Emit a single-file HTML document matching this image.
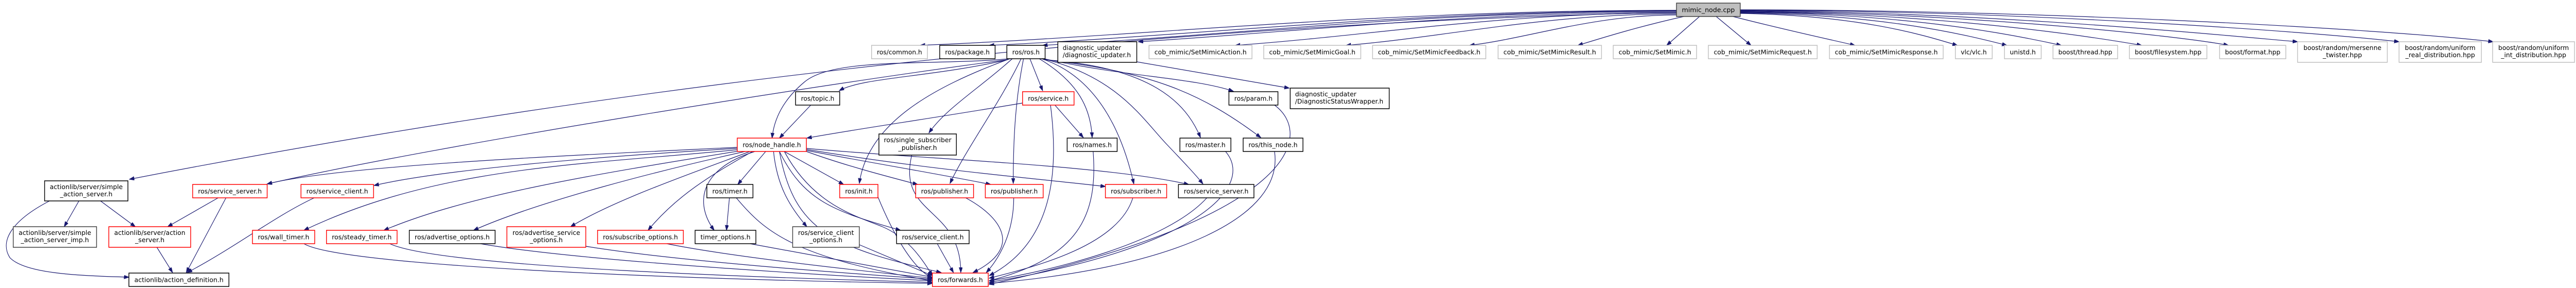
<!DOCTYPE html>
<html><head><meta charset="utf-8"><style>
html,body{margin:0;padding:0;background:#fff;width:100%;height:100%;overflow:hidden}
svg{display:block;position:absolute;left:0;top:0;width:100%;height:100%}
text{font-family:"DejaVu Sans","Liberation Sans",sans-serif;font-size:12px;fill:#000}
.e{fill:none;stroke:#191970;stroke-width:1.2;marker-end:url(#a)}
.g{fill:#fff;stroke:#bfbfbf;stroke-width:1.5}
.b{fill:#fff;stroke:#000;stroke-width:1.5}
.r{fill:#fff;stroke:#ff0000;stroke-width:1.5}
</style></head><body>
<svg viewBox="0 0 5255 559" preserveAspectRatio="none" overflow="hidden" xmlns="http://www.w3.org/2000/svg">
<defs><marker id="a" markerUnits="userSpaceOnUse" markerWidth="11" markerHeight="8" refX="10" refY="3.5" orient="auto"><path d="M0,0 L10,3.5 L0,7 z" fill="#191970" stroke="#191970"/></marker></defs>
<g>
<path class="e" d="M3420,24 C2600,40 1500,120 264,348"/>
<path class="e" d="M3420,20 C2800,20 2340,70 1877,88"/>
<path class="e" d="M3420,21 C2860,21 2440,70 2018,88"/>
<path class="e" d="M3420,22 C2900,22 2520,68 2127,88"/>
<path class="e" d="M3420,24 C2980,24 2650,62 2322,81"/>
<path class="e" d="M3420,25 C3060,25 2790,70 2520,88"/>
<path class="e" d="M3420,27 C3150,27 2950,72 2746,88"/>
<path class="e" d="M3420,29 C3250,29 3120,74 2998,88"/>
<path class="e" d="M3435,32 C3350,50 3280,70 3219,88"/>
<path class="e" d="M3467,32 L3400,88"/>
<path class="e" d="M3501,32 L3572,88"/>
<path class="e" d="M3535,32 C3650,60 3740,78 3784,88"/>
<path class="e" d="M3550,26 C3800,30 3930,70 3993,88"/>
<path class="e" d="M3550,25 C3850,28 4020,70 4094,88"/>
<path class="e" d="M3550,24 C3900,26 4120,70 4205,88"/>
<path class="e" d="M3550,23 C3950,25 4260,70 4369,88"/>
<path class="e" d="M3550,22 C4000,24 4450,70 4546,88"/>
<path class="e" d="M3550,21 C4050,22 4550,70 4687,81"/>
<path class="e" d="M3550,20 C4100,20 4700,60 4894,81"/>
<path class="e" d="M3550,19 C4150,19 4850,55 5086,81"/>
<path class="e" d="M2060,114 C1900,128 1700,110 1640,160 C1590,200 1578,240 1575,268"/>
<path class="e" d="M2055,116 C1900,150 1760,150 1712,176"/>
<path class="e" d="M2055,116 C1700,160 900,280 545,357"/>
<path class="e" d="M2065,114 C2000,170 1930,210 1895,258"/>
<path class="e" d="M2083,114 C2040,200 1970,290 1938,356"/>
<path class="e" d="M2088,114 C2070,200 2067,280 2067,356"/>
<path class="e" d="M2101,114 L2127,176"/>
<path class="e" d="M2120,114 C2200,160 2225,210 2228,267"/>
<path class="e" d="M2125,114 C2240,150 2290,260 2313,357"/>
<path class="e" d="M2128,114 C2280,150 2330,230 2380,280 C2410,310 2440,340 2454,357"/>
<path class="e" d="M2130,114 C2300,150 2430,150 2516,177"/>
<path class="e" d="M2130,116 C2350,130 2420,200 2449,267"/>
<path class="e" d="M2132,116 C2350,140 2450,180 2572,267"/>
<path class="e" d="M2060,114 C1900,170 1770,240 1753,356"/>
<path class="e" d="M2319,120 L2630,171"/>
<path class="e" d="M2086,200 C1900,230 1750,250 1646,268"/>
<path class="e" d="M2152,204 L2210,267"/>
<path class="e" d="M2143,204 C2160,330 2150,470 2018,535"/>
<path class="e" d="M1860,301 C1830,420 1960,400 1960,529"/>
<path class="e" d="M2230,294 C2240,420 2200,500 2018,545"/>
<path class="e" d="M2500,294 C2560,360 2450,480 2018,548"/>
<path class="e" d="M2600,294 C2620,420 2400,520 2018,550"/>
<path class="e" d="M2600,204 C2680,260 2650,420 2018,552"/>
<path class="e" d="M2311,384 C2280,480 2100,520 2018,540"/>
<path class="e" d="M2462,384 C2380,470 2150,525 2018,545"/>
<path class="e" d="M1970,384 C2040,420 2090,480 1985,529"/>
<path class="e" d="M2068,384 C2068,450 2040,500 2012,529"/>
<path class="e" d="M1912,473 L1945,529"/>
<path class="e" d="M1488,384 L1482,447"/>
<path class="e" d="M1502,384 C1560,450 1620,500 1902,545"/>
<path class="e" d="M1790,380 C1820,450 1860,520 1902,540"/>
<path class="e" d="M1753,475 L1902,535"/>
<path class="e" d="M1530,473 L1902,538"/>
<path class="e" d="M1360,473 C1500,500 1800,530 1902,540"/>
<path class="e" d="M1195,478 C1400,510 1800,535 1902,542"/>
<path class="e" d="M980,473 C1200,510 1800,540 1902,545"/>
<path class="e" d="M795,473 C900,520 1600,540 1902,548"/>
<path class="e" d="M620,473 C700,520 1500,545 1902,550"/>
<path class="e" d="M641,384 C560,420 480,480 382,529"/>
<path class="e" d="M461,384 L380,529"/>
<path class="e" d="M445,384 L342,440"/>
<path class="e" d="M161,390 L131,440"/>
<path class="e" d="M205,390 L276,440"/>
<path class="e" d="M101,390 C20,430 0,470 20,500 C50,530 150,535 263,538"/>
<path class="e" d="M320,480 L352,529"/>
<path class="e" d="M1504,286 C1200,300 700,320 545,357"/>
<path class="e" d="M1504,288 C1200,305 900,330 763,360"/>
<path class="e" d="M1510,290 C1200,320 900,320 620,447"/>
<path class="e" d="M1515,292 C1200,340 950,380 783,447"/>
<path class="e" d="M1520,294 C1350,330 1100,390 966,447"/>
<path class="e" d="M1530,294 C1400,340 1250,390 1164,440"/>
<path class="e" d="M1535,294 C1450,340 1380,380 1322,447"/>
<path class="e" d="M1540,294 C1420,330 1420,400 1457,447"/>
<path class="e" d="M1562,294 L1505,358"/>
<path class="e" d="M1600,294 L1721,358"/>
<path class="e" d="M1578,294 C1585,360 1610,400 1646,440"/>
<path class="e" d="M1590,294 C1640,390 1700,410 1837,447"/>
<path class="e" d="M1645,294 C1720,320 1800,340 1872,358"/>
<path class="e" d="M1645,292 C1800,320 1900,335 2021,358"/>
<path class="e" d="M1645,290 C1900,330 2100,345 2255,362"/>
<path class="e" d="M1645,288 C1900,310 2250,320 2425,358"/>
<path class="e" d="M1600,294 C1660,400 1750,420 1800,440 C1850,460 1880,500 1902,535"/>
<path class="e" d="M1590,294 C1620,450 1700,480 1920,529"/>
<path class="e" d="M1654,204 L1590,268"/>
</g>
<g>
<rect class="b" x="3420" y="6" width="130" height="26" style="fill:#bfbfbf;stroke:#404040"/><text x="3485" y="23.5" text-anchor="middle" textLength="108" lengthAdjust="spacingAndGlyphs">mimic_node.cpp</text>
<rect class="g" x="1778" y="88" width="114" height="26"/><text x="1835" y="105.5" text-anchor="middle" textLength="92" lengthAdjust="spacingAndGlyphs">ros/common.h</text>
<rect class="b" x="1917" y="88" width="113" height="26"/><text x="1973.5" y="105.5" text-anchor="middle" textLength="91" lengthAdjust="spacingAndGlyphs">ros/package.h</text>
<rect class="b" x="2054" y="88" width="78" height="26"/><text x="2093" y="105.5" text-anchor="middle" textLength="56" lengthAdjust="spacingAndGlyphs">ros/ros.h</text>
<rect class="g" x="2344" y="88" width="210" height="26"/><text x="2449" y="105.5" text-anchor="middle" textLength="188" lengthAdjust="spacingAndGlyphs">cob_mimic/SetMimicAction.h</text>
<rect class="g" x="2578" y="88" width="198" height="26"/><text x="2677" y="105.5" text-anchor="middle" textLength="176" lengthAdjust="spacingAndGlyphs">cob_mimic/SetMimicGoal.h</text>
<rect class="g" x="2800" y="88" width="231" height="26"/><text x="2915.5" y="105.5" text-anchor="middle" textLength="209" lengthAdjust="spacingAndGlyphs">cob_mimic/SetMimicFeedback.h</text>
<rect class="g" x="3056" y="88" width="211" height="26"/><text x="3161.5" y="105.5" text-anchor="middle" textLength="189" lengthAdjust="spacingAndGlyphs">cob_mimic/SetMimicResult.h</text>
<rect class="g" x="3291" y="88" width="170" height="26"/><text x="3376" y="105.5" text-anchor="middle" textLength="148" lengthAdjust="spacingAndGlyphs">cob_mimic/SetMimic.h</text>
<rect class="g" x="3485" y="88" width="222" height="26"/><text x="3596" y="105.5" text-anchor="middle" textLength="200" lengthAdjust="spacingAndGlyphs">cob_mimic/SetMimicRequest.h</text>
<rect class="g" x="3732" y="88" width="232" height="26"/><text x="3848" y="105.5" text-anchor="middle" textLength="210" lengthAdjust="spacingAndGlyphs">cob_mimic/SetMimicResponse.h</text>
<rect class="g" x="3989" y="88" width="75" height="26"/><text x="4026.5" y="105.5" text-anchor="middle" textLength="53" lengthAdjust="spacingAndGlyphs">vlc/vlc.h</text>
<rect class="g" x="4089" y="88" width="75" height="26"/><text x="4126.5" y="105.5" text-anchor="middle" textLength="53" lengthAdjust="spacingAndGlyphs">unistd.h</text>
<rect class="g" x="4188" y="88" width="132" height="26"/><text x="4254" y="105.5" text-anchor="middle" textLength="110" lengthAdjust="spacingAndGlyphs">boost/thread.hpp</text>
<rect class="g" x="4344" y="88" width="158" height="26"/><text x="4423" y="105.5" text-anchor="middle" textLength="136" lengthAdjust="spacingAndGlyphs">boost/filesystem.hpp</text>
<rect class="g" x="4528" y="88" width="135" height="26"/><text x="4595.5" y="105.5" text-anchor="middle" textLength="113" lengthAdjust="spacingAndGlyphs">boost/format.hpp</text>
<rect class="r" x="2086" y="178" width="105" height="26"/><text x="2138.5" y="195.5" text-anchor="middle" textLength="83" lengthAdjust="spacingAndGlyphs">ros/service.h</text>
<rect class="b" x="2507" y="178" width="100" height="26"/><text x="2557" y="195.5" text-anchor="middle" textLength="78" lengthAdjust="spacingAndGlyphs">ros/param.h</text>
<rect class="b" x="1623" y="178" width="90" height="26"/><text x="1668" y="195.5" text-anchor="middle" textLength="68" lengthAdjust="spacingAndGlyphs">ros/topic.h</text>
<rect class="r" x="1504" y="268" width="141" height="26"/><text x="1574.5" y="285.5" text-anchor="middle" textLength="119" lengthAdjust="spacingAndGlyphs">ros/node_handle.h</text>
<rect class="b" x="2177" y="268" width="102" height="26"/><text x="2228" y="285.5" text-anchor="middle" textLength="80" lengthAdjust="spacingAndGlyphs">ros/names.h</text>
<rect class="b" x="2407" y="268" width="104" height="26"/><text x="2459" y="285.5" text-anchor="middle" textLength="82" lengthAdjust="spacingAndGlyphs">ros/master.h</text>
<rect class="b" x="2536" y="268" width="122" height="26"/><text x="2597" y="285.5" text-anchor="middle" textLength="100" lengthAdjust="spacingAndGlyphs">ros/this_node.h</text>
<rect class="r" x="393" y="358" width="152" height="26"/><text x="469" y="375.5" text-anchor="middle" textLength="130" lengthAdjust="spacingAndGlyphs">ros/service_server.h</text>
<rect class="r" x="614" y="358" width="148" height="26"/><text x="688" y="375.5" text-anchor="middle" textLength="126" lengthAdjust="spacingAndGlyphs">ros/service_client.h</text>
<rect class="b" x="1442" y="358" width="94" height="26"/><text x="1489" y="375.5" text-anchor="middle" textLength="72" lengthAdjust="spacingAndGlyphs">ros/timer.h</text>
<rect class="r" x="1713" y="358" width="78" height="26"/><text x="1752" y="375.5" text-anchor="middle" textLength="56" lengthAdjust="spacingAndGlyphs">ros/init.h</text>
<rect class="r" x="1868" y="358" width="118" height="26"/><text x="1927" y="375.5" text-anchor="middle" textLength="96" lengthAdjust="spacingAndGlyphs">ros/publisher.h</text>
<rect class="r" x="2010" y="358" width="118" height="26"/><text x="2069" y="375.5" text-anchor="middle" textLength="96" lengthAdjust="spacingAndGlyphs">ros/publisher.h</text>
<rect class="r" x="2255" y="358" width="125" height="26"/><text x="2317.5" y="375.5" text-anchor="middle" textLength="103" lengthAdjust="spacingAndGlyphs">ros/subscriber.h</text>
<rect class="b" x="2404" y="358" width="154" height="26"/><text x="2481" y="375.5" text-anchor="middle" textLength="132" lengthAdjust="spacingAndGlyphs">ros/service_server.h</text>
<rect class="r" x="515" y="447" width="127" height="26"/><text x="578.5" y="464.5" text-anchor="middle" textLength="105" lengthAdjust="spacingAndGlyphs">ros/wall_timer.h</text>
<rect class="r" x="666" y="447" width="144" height="26"/><text x="738" y="464.5" text-anchor="middle" textLength="122" lengthAdjust="spacingAndGlyphs">ros/steady_timer.h</text>
<rect class="b" x="835" y="447" width="175" height="26"/><text x="922.5" y="464.5" text-anchor="middle" textLength="153" lengthAdjust="spacingAndGlyphs">ros/advertise_options.h</text>
<rect class="r" x="1219" y="447" width="175" height="26"/><text x="1306.5" y="464.5" text-anchor="middle" textLength="153" lengthAdjust="spacingAndGlyphs">ros/subscribe_options.h</text>
<rect class="b" x="1418" y="447" width="124" height="26"/><text x="1480" y="464.5" text-anchor="middle" textLength="102" lengthAdjust="spacingAndGlyphs">timer_options.h</text>
<rect class="b" x="1829" y="447" width="148" height="26"/><text x="1903" y="464.5" text-anchor="middle" textLength="126" lengthAdjust="spacingAndGlyphs">ros/service_client.h</text>
<rect class="b" x="263" y="530" width="204" height="26"/><text x="365" y="547.5" text-anchor="middle" textLength="182" lengthAdjust="spacingAndGlyphs">actionlib/action_definition.h</text>
<rect class="r" x="1902" y="530" width="114" height="26"/><text x="1959" y="547.5" text-anchor="middle" textLength="92" lengthAdjust="spacingAndGlyphs">ros/forwards.h</text>
<rect class="b" x="2158" y="81" width="161" height="40"/><text x="2168" y="97" textLength="119" lengthAdjust="spacingAndGlyphs">diagnostic_updater</text><text x="2168" y="111" textLength="139" lengthAdjust="spacingAndGlyphs">/diagnostic_updater.h</text>
<rect class="b" x="2632" y="171" width="202" height="40"/><text x="2642" y="187" textLength="125" lengthAdjust="spacingAndGlyphs">diagnostic_updater</text><text x="2642" y="201" textLength="180" lengthAdjust="spacingAndGlyphs">/DiagnosticStatusWrapper.h</text>
<rect class="g" x="4687" y="81" width="183" height="40"/><text x="4778.5" y="97" text-anchor="middle" textLength="159" lengthAdjust="spacingAndGlyphs">boost/random/mersenne</text><text x="4778.5" y="111" text-anchor="middle" textLength="80" lengthAdjust="spacingAndGlyphs">_twister.hpp</text>
<rect class="g" x="4894" y="81" width="168" height="40"/><text x="4978" y="97" text-anchor="middle" textLength="144" lengthAdjust="spacingAndGlyphs">boost/random/uniform</text><text x="4978" y="111" text-anchor="middle" textLength="142" lengthAdjust="spacingAndGlyphs">_real_distribution.hpp</text>
<rect class="g" x="5085" y="81" width="167" height="40"/><text x="5168.5" y="97" text-anchor="middle" textLength="144" lengthAdjust="spacingAndGlyphs">boost/random/uniform</text><text x="5168.5" y="111" text-anchor="middle" textLength="133" lengthAdjust="spacingAndGlyphs">_int_distribution.hpp</text>
<rect class="b" x="1793" y="260" width="158" height="41"/><text x="1872" y="276" text-anchor="middle" textLength="138" lengthAdjust="spacingAndGlyphs">ros/single_subscriber</text><text x="1872" y="291" text-anchor="middle" textLength="79" lengthAdjust="spacingAndGlyphs">_publisher.h</text>
<rect class="b" x="91" y="351" width="170" height="39"/><text x="176" y="367" text-anchor="middle" textLength="149" lengthAdjust="spacingAndGlyphs">actionlib/server/simple</text><text x="176" y="381" text-anchor="middle" textLength="107" lengthAdjust="spacingAndGlyphs">_action_server.h</text>
<rect class="b" x="27" y="440" width="170" height="40" style="stroke:#404040"/><text x="112" y="456" text-anchor="middle" textLength="148" lengthAdjust="spacingAndGlyphs">actionlib/server/simple</text><text x="112" y="470" text-anchor="middle" textLength="139" lengthAdjust="spacingAndGlyphs">_action_server_imp.h</text>
<rect class="r" x="222" y="440" width="167" height="40"/><text x="305.5" y="456" text-anchor="middle" textLength="145" lengthAdjust="spacingAndGlyphs">actionlib/server/action</text><text x="305.5" y="470" text-anchor="middle" textLength="60" lengthAdjust="spacingAndGlyphs">_server.h</text>
<rect class="r" x="1034" y="440" width="161" height="40"/><text x="1114.5" y="456" text-anchor="middle" textLength="138" lengthAdjust="spacingAndGlyphs">ros/advertise_service</text><text x="1114.5" y="470" text-anchor="middle" textLength="67" lengthAdjust="spacingAndGlyphs">_options.h</text>
<rect class="b" x="1617" y="440" width="136" height="40" style="stroke:#404040"/><text x="1685" y="456" text-anchor="middle" textLength="114" lengthAdjust="spacingAndGlyphs">ros/service_client</text><text x="1685" y="470" text-anchor="middle" textLength="67" lengthAdjust="spacingAndGlyphs">_options.h</text>
</g>
</svg>
</body></html>
